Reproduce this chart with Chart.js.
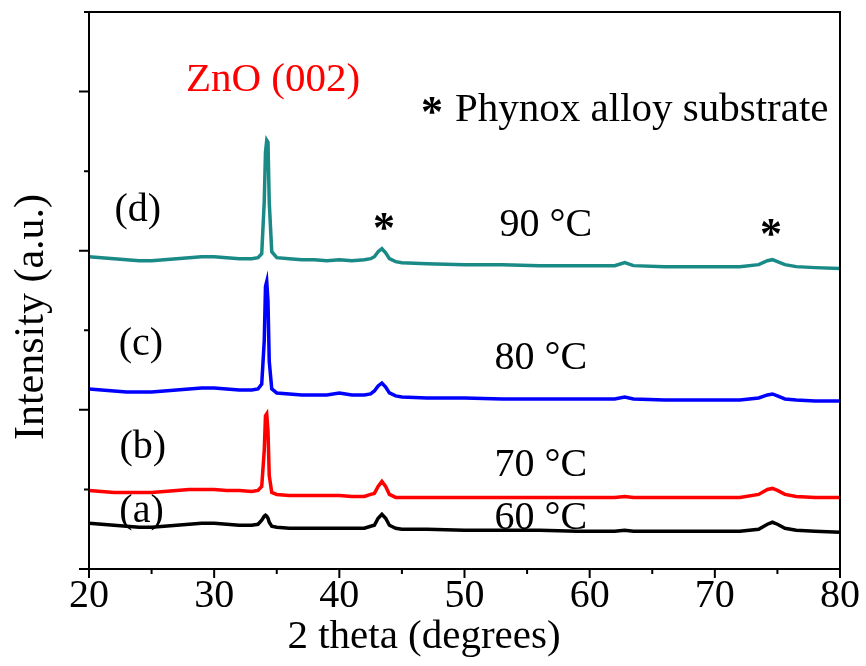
<!DOCTYPE html>
<html><head><meta charset="utf-8">
<script src="https://cdn.jsdelivr.net/npm/chart.js@4.4.0/dist/chart.umd.min.js"></script>
<style>html,body{margin:0;padding:0;background:#fff}canvas{display:block}</style>
</head><body>
<canvas id="c" width="866" height="666"></canvas>
<script>
// 2 theta positions (degrees)
const twoTheta = [20,21,22,23,24,25,26,27,28,29,30,31,32,33,33.5,33.8,34.0,34.1,34.2,34.3,34.4,34.6,35,36,37,38,39,40,41,42,42.5,42.8,43.1,43.4,43.7,44.0,44.5,45,47,50,53,56,59,62,62.8,63.5,66,69,72,73.5,74.2,74.6,75.0,75.6,76.5,78,80];
// Intensities (a.u., stacked offsets as in the figure)
const s60 = [46,45,44,43,42,42,43,44,45,46,46,45,44,44,45,49,53,54,53,51,47,43,42,41,41,41,41,41,41,41,43,44,51,55,51,44,41,40,40,39,39,39,38,38,39,38,38,38,38,40,45,47,45,41,39,38,37];
const s70 = [79,78,77,77,77,77,78,79,80,80,80,79,79,78,79,83,119,154,156,139,94,77,75,74,74,74,74,74,73,73,75,76,83,88,83,75,72,72,72,72,72,72,72,72,73,72,72,72,72,75,80,81,79,75,73,72,72];
const s80 = [181,180,179,178,178,178,179,180,181,182,182,181,180,180,181,186,229,284,289,269,209,181,177,176,175,175,175,177,175,175,176,179,184,187,183,177,174,173,172,172,171,171,171,171,173,171,170,170,170,172,175,176,174,171,170,169,169];
const s90 = [314,313,312,311,310,310,311,312,313,314,314,313,312,312,313,317,369,419,431,429,369,319,313,312,311,311,310,311,310,311,312,314,319,322,318,312,309,308,307,306,306,305,305,305,308,305,304,304,304,306,310,311,309,306,304,303,302];
const seriesNames = ['60 °C','70 °C','80 °C','90 °C'];
const seriesColors = ['#000000','#ff0000','#0000ff','#1a8a86'];
const xMajorTicks = [20,30,40,50,60,70,80];
const xTitle = '2 theta (degrees)';
const yTitle = 'Intensity (a.u.)';
// annotations: [text, x(2θ), y(a.u.), color, font, align]
const labels = [
  ['ZnO (002)', 34.7, 491, '#ff0000', '41px "Liberation Serif"', 'center'],
  ['Phynox alloy substrate', 49.24, 461, '#000000', '41px "Liberation Serif"', 'left'],
  ['*', 47.4, 466, '#000000', 'bold 44px "Liberation Serif"', 'center'],
  ['(d)', 23.9, 360, '#000000', '40px "Liberation Serif"', 'center'],
  ['(c)', 24.15, 226, '#000000', '40px "Liberation Serif"', 'center'],
  ['(b)', 24.3, 122, '#000000', '40px "Liberation Serif"', 'center'],
  ['(a)', 24.2, 58, '#000000', '40px "Liberation Serif"', 'center'],
  ['90 °C', 56.5, 345, '#000000', '40px "Liberation Serif"', 'center'],
  ['80 °C', 56.1, 212, '#000000', '40px "Liberation Serif"', 'center'],
  ['70 °C', 56.1, 104, '#000000', '40px "Liberation Serif"', 'center'],
  ['60 °C', 56.1, 51, '#000000', '40px "Liberation Serif"', 'center'],
  ['*', 43.57, 349, '#000000', 'bold 44px "Liberation Serif"', 'center'],
  ['*', 74.49, 343, '#000000', 'bold 44px "Liberation Serif"', 'center']
];
const allSeries = [s60, s70, s80, s90];

const datasets = allSeries.map((s, i) => ({
  label: seriesNames[i],
  data: twoTheta.map((x, j) => ({x: x, y: s[j]})),
  borderColor: seriesColors[i],
  borderWidth: 3.5,
  pointRadius: 0,
  tension: 0,
  fill: false
}));

const framePlugin = {
  id: 'frame',
  afterDraw(chart) {
    const ctx = chart.ctx, a = chart.chartArea;
    const xs = chart.scales.x, ys = chart.scales.y;
    ctx.save();
    ctx.strokeStyle = '#000'; ctx.lineWidth = 2;
    ctx.strokeRect(a.left, a.top, a.right - a.left, a.bottom - a.top);
    ctx.beginPath();
    for (let v = 20; v <= 80; v += 5) {
      const p = xs.getPixelForValue(v);
      const len = (v % 10 === 0) ? 9 : 5;
      ctx.moveTo(p, a.bottom); ctx.lineTo(p, a.bottom + len);
    }
    for (let v = 0; v <= 560; v += 80) {
      const p = ys.getPixelForValue(v);
      const len = (v % 160 === 0) ? 10 : 5;
      ctx.moveTo(a.left, p); ctx.lineTo(a.left - len, p);
    }
    ctx.stroke();
    ctx.textBaseline = 'middle';
    labels.forEach(l => {
      ctx.font = l[4]; ctx.fillStyle = l[3]; ctx.textAlign = l[5];
      let py = ys.getPixelForValue(l[2]);
      if (l[0] === '*') py += 9;
      ctx.fillText(l[0], xs.getPixelForValue(l[1]), py);
    });
    // axis titles
    ctx.fillStyle = '#000';
    ctx.textAlign = 'center';
    ctx.font = '41px "Liberation Serif"';
    ctx.fillText(xTitle, 424, 637);
    ctx.translate(32, 317);
    ctx.rotate(-Math.PI / 2);
    ctx.font = '42px "Liberation Serif"';
    ctx.fillText(yTitle, 0, 0);
    ctx.restore();
  }
};

new Chart(document.getElementById('c'), {
  type: 'line',
  data: { datasets },
  plugins: [framePlugin],
  options: {
    responsive: false,
    animation: false,
    devicePixelRatio: 1,
    layout: { padding: { top: 12, right: 26, left: 0, bottom: 0 } },
    plugins: { legend: { display: false }, tooltip: { enabled: false } },
    scales: {
      x: {
        type: 'linear', min: 20, max: 80,
        afterBuildTicks: s => { s.ticks = xMajorTicks.map(v => ({value: v})); },
        ticks: { color: '#000', font: { family: 'Liberation Serif', size: 40 }, padding: 3, maxRotation: 0, autoSkip: false },
        grid: { display: false, drawTicks: false },
        border: { display: true, color: '#000', width: 2 },
        title: { display: false },
        afterFit: s => { s.height = 97; }
      },
      y: {
        type: 'linear', min: 0, max: 560,
        ticks: { display: false },
        grid: { display: false, drawTicks: false },
        border: { display: true, color: '#000', width: 2 },
        title: { display: false },
        afterFit: s => { s.width = 89; }
      }
    }
  }
});
</script>
</body></html>
